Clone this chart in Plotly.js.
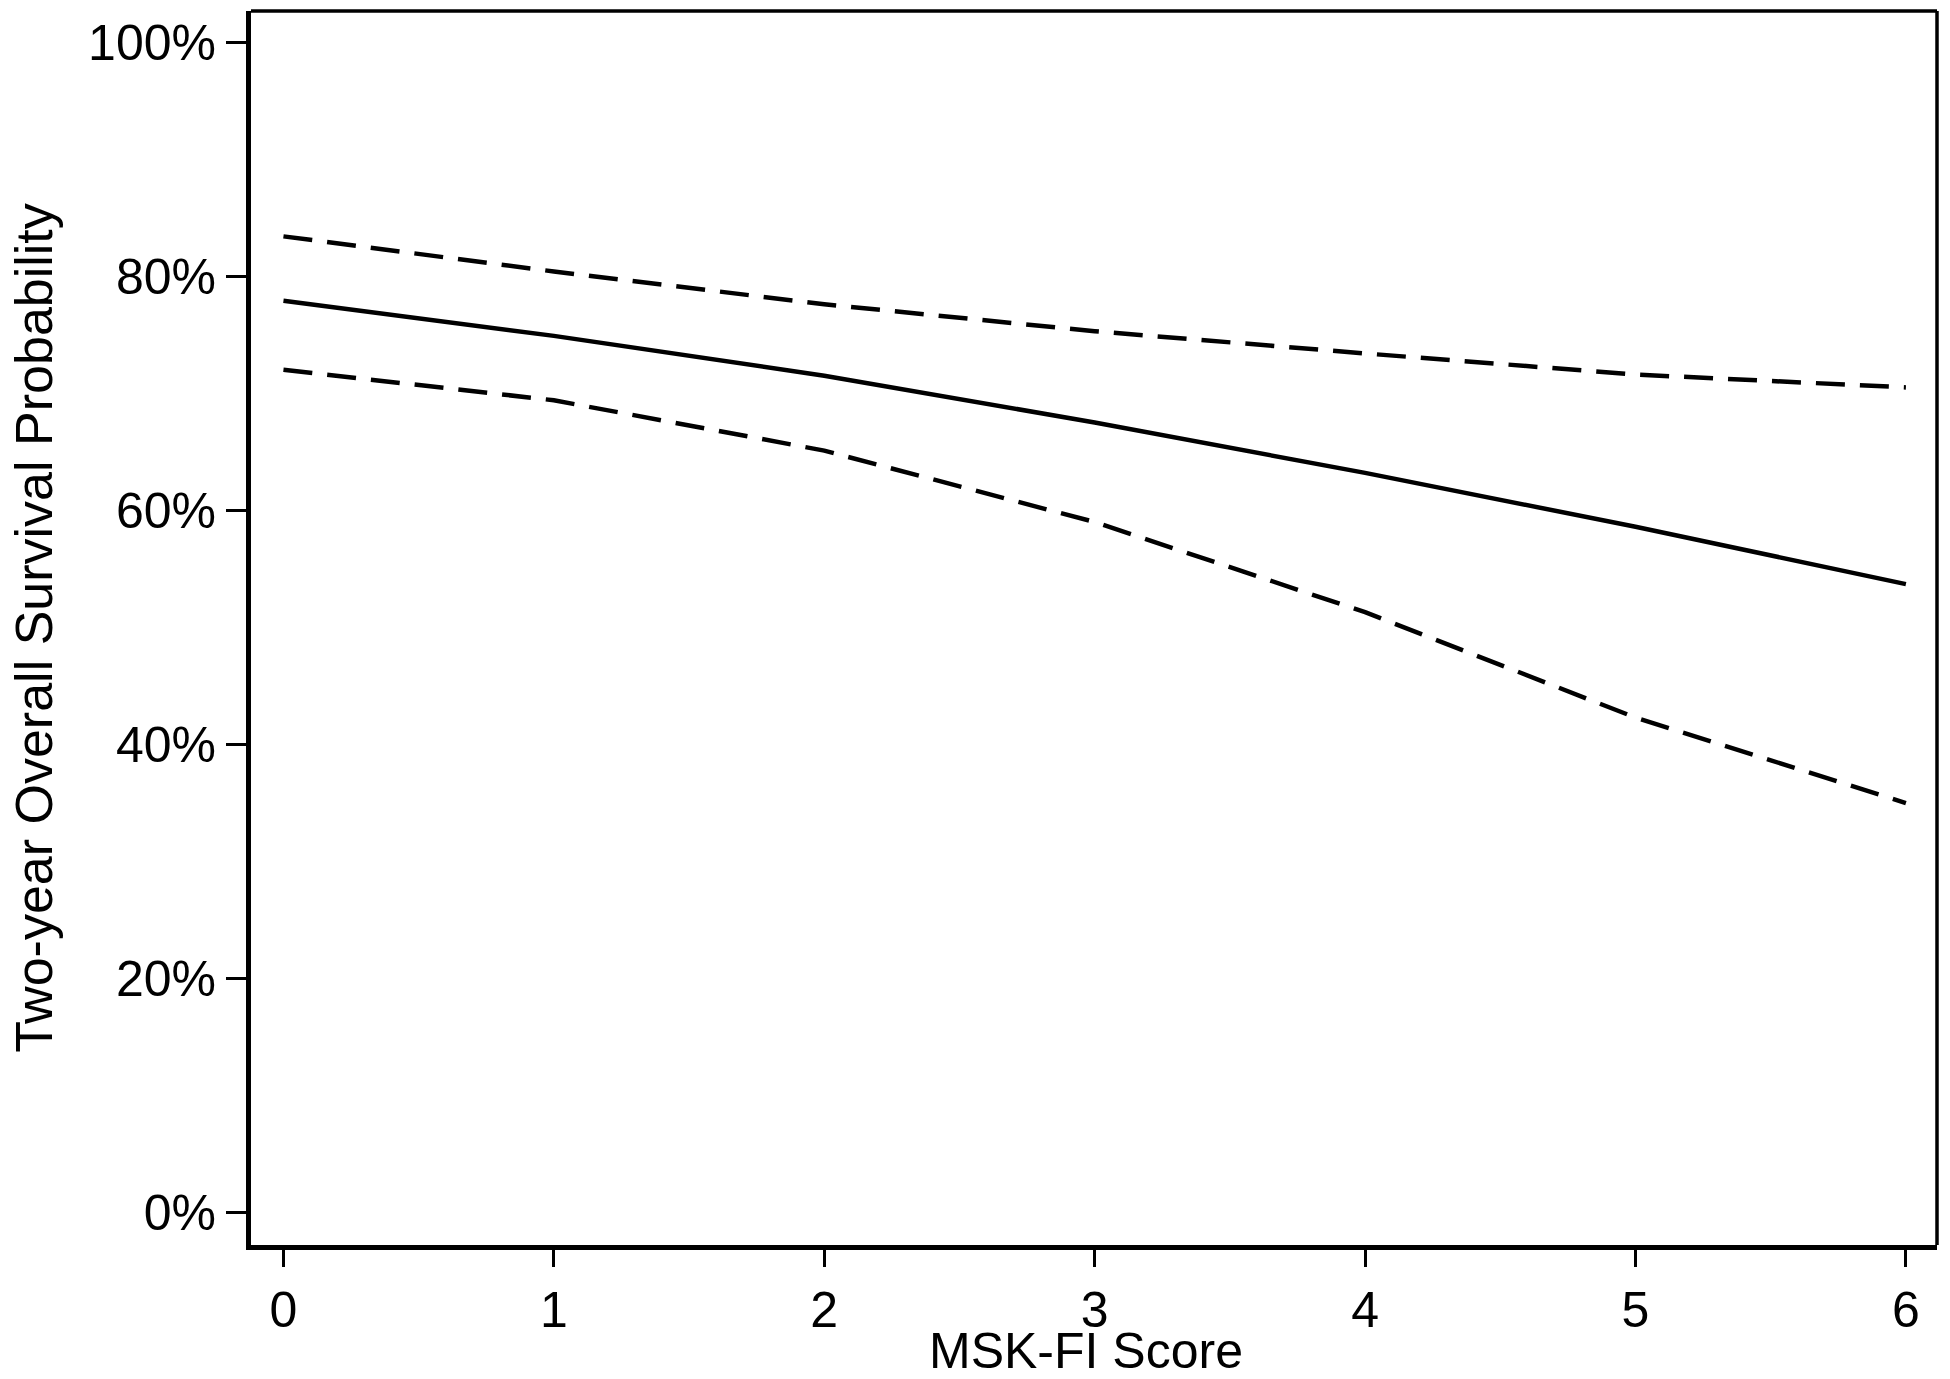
<!DOCTYPE html>
<html>
<head>
<meta charset="utf-8">
<script src="https://cdn.plot.ly/plotly-3.0.1.min.js"></script>
<style>
  html, body { margin: 0; padding: 0; background: #ffffff; }
  #chart { width: 1950px; height: 1379px; }
</style>
</head>
<body>
<div id="chart"></div>
<script>
// MSK-FI score on the x axis
const scores = [0, 1, 2, 3, 4, 5, 6];

// predicted two-year overall survival, percent
const estimate = [77.9, 74.9, 71.5, 67.5, 63.2, 58.6, 53.7];
const upperCI = [83.4, 80.4, 77.6, 75.3, 73.4, 71.6, 70.5];
const lowerCI = [72.0, 69.4, 65.1, 59.0, 51.3, 42.3, 35.0];

const yTicks = [0, 20, 40, 60, 80, 100];
const yTickLabels = ["0%", "20%", "40%", "60%", "80%", "100%"];

const xTitle = "MSK-FI Score";
const yTitle = "Two-year Overall Survival Probability";

const FONT = "Liberation Sans, Arial, Helvetica, sans-serif";

function lineTrace(y, dash) {
  return {
    x: scores,
    y: y,
    type: "scatter",
    mode: "lines",
    line: { color: "#000000", width: 4.5, dash: dash },
    hoverinfo: "x+y",
    showlegend: false
  };
}

const traces = [
  lineTrace(upperCI, "29px,15px"),
  lineTrace(estimate, "solid"),
  lineTrace(lowerCI, "29px,15px")
];

const layout = {
  width: 1950,
  height: 1379,
  margin: { l: 251, r: 13, t: 11, b: 134, pad: 0 },
  paper_bgcolor: "#ffffff",
  plot_bgcolor: "#ffffff",
  font: { family: FONT, color: "#000000", size: 50 },
  showlegend: false,
  xaxis: {
    range: [-0.12, 6.115],
    tickvals: scores,
    ticks: "outside",
    ticklen: 17,
    tickwidth: 3,
    tickcolor: "#000000",
    showgrid: false,
    zeroline: false,
    showline: true,
    linewidth: 5,
    linecolor: "#000000",
    tickfont: { size: 50 },
    automargin: false
  },
  yaxis: {
    range: [-2.75, 102.65],
    tickvals: yTicks,
    ticktext: yTickLabels,
    ticks: "outside",
    ticklen: 20,
    tickwidth: 3,
    tickcolor: "#000000",
    showgrid: false,
    zeroline: false,
    showline: true,
    linewidth: 5,
    linecolor: "#000000",
    tickfont: { size: 50 },
    automargin: false,
    title: { text: yTitle, font: { size: 52 }, standoff: 20 }
  },
  annotations: [
    // x axis title placed as an annotation so it can sit just under the tick labels
    { text: xTitle, xref: "paper", yref: "paper", x: 0.495, y: -0.0855,
      xanchor: "center", yanchor: "middle", showarrow: false,
      font: { size: 50, family: FONT, color: "#000000" } }
  ],
  shapes: [
    // top and right border of the plot frame (thinner than the axes)
    { type: "line", xref: "paper", yref: "paper", x0: 0, x1: 1, y0: 1, y1: 1,
      line: { color: "#000000", width: 3.5 } },
    { type: "line", xref: "paper", yref: "paper", x0: 1, x1: 1, y0: 0, y1: 1,
      line: { color: "#000000", width: 3.5 } }
  ]
};

Plotly.newPlot("chart", traces, layout, { staticPlot: true });
</script>
</body>
</html>
